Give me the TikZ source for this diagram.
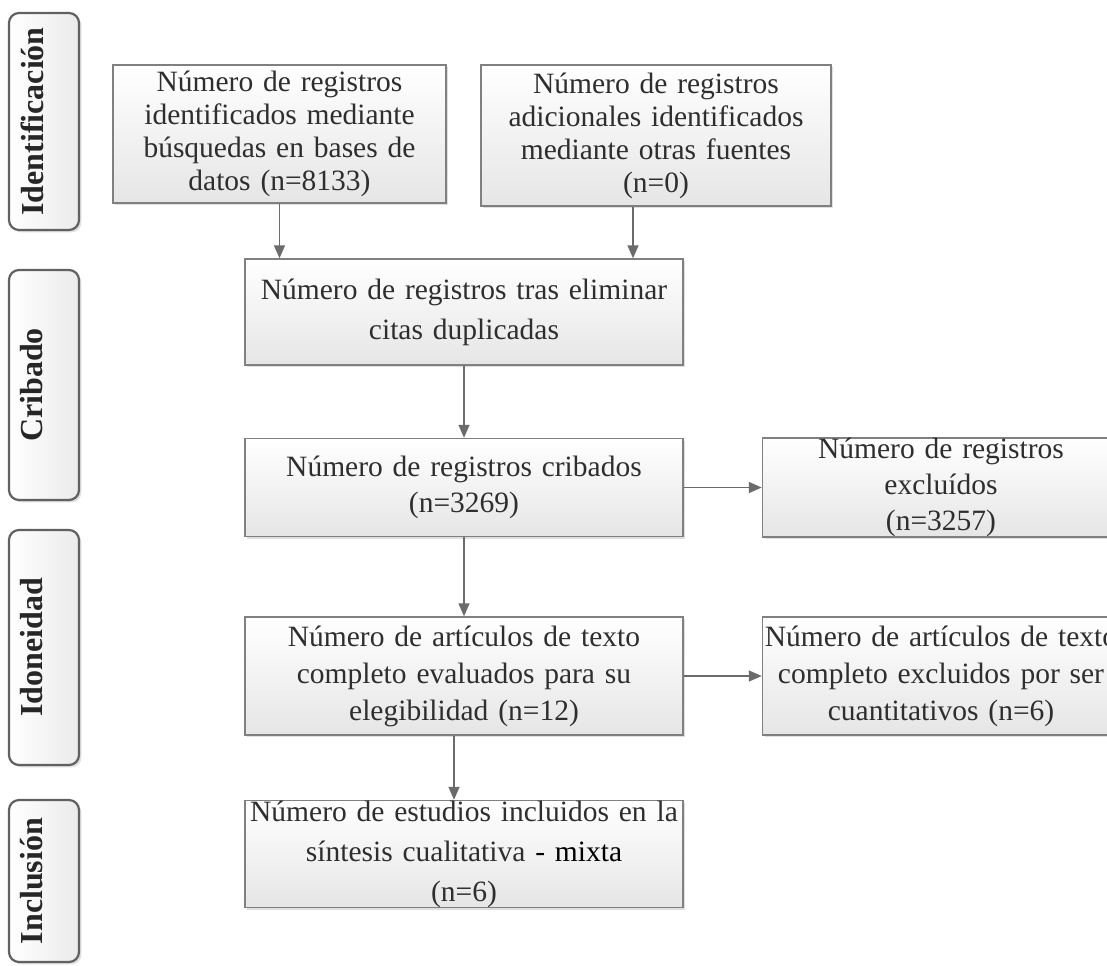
\documentclass[tikz,border=0pt]{standalone}
\usepackage{fontspec}
\setmainfont{Liberation Serif}
\usetikzlibrary{positioning}
\usetikzlibrary{shadows}
\usetikzlibrary{arrows.meta}

\begin{document}
\begin{tikzpicture}
	[x=0.5pt, y=-0.5pt,
	 box/.style={rectangle, draw=black!50, line width=0.75pt, top color=white, bottom color=black!10,
	   drop shadow={shadow xshift=1.2pt, shadow yshift=-1.2pt, opacity=0.25},
	   inner sep=0pt, align=center, text=black!82, minimum width=#1, text width=#1},
	 box/.default=219pt,
	 linegap/.style={font=\fontsize{14.75}{#1}\selectfont},
	 stage/.style={rectangle, rounded corners=5pt, draw=black!62, line width=1.1pt, left color=white, right color=black!8,
	   drop shadow={shadow xshift=1.2pt, shadow yshift=-1.2pt, opacity=0.25}, minimum width=35pt, minimum height=#1},
	 stagetext/.style={rotate=90, inner sep=0pt, text=black!85, font=\fontsize{16}{18}\selectfont\bfseries},
	 arr/.style={draw=black!58, line width=0.75pt, -{Triangle[length=6.5pt, width=5.5pt]}}]
	\clip (0,0) rectangle (1107,965);
	\fill[white] (0,0) rectangle (1107,965);

	% stages
	\node[stage=108.5pt] (ident) at (44,121.5) {};
	\node[stagetext] (identtxt) at (32,121.5) {Identificación};
	\node[stage=115pt] (crib) at (44,385) {};
	\node[stagetext] (cribtxt) at (32,385) {Cribado};
	\node[stage=117.5pt] (idon) at (44,647.5) {};
	\node[stagetext] (idontxt) at (32,647.5) {Idoneidad};
	\node[stage=81pt] (incl) at (44,881) {};
	\node[stagetext] (incltxt) at (32,881) {Inclusión};

	% boxes
	\node[box=166.5pt, linegap=16.5pt, minimum height=69pt] (bases) at (279.5,134)
		{Número de registros\\identificados mediante\\búsquedas en bases de\\datos (n=8133)};
	\node[box=175pt, linegap=16.5pt, minimum height=70.5pt] (otras) at (656,135.5)
		{Número de registros\\adicionales identificados\\mediante otras fuentes\\(n=0)};
	\node[box, linegap=20pt, minimum height=53pt] (dupl) at (464,312)
		{Número de registros tras eliminar\\citas duplicadas};
	\node[box, linegap=18pt, minimum height=49pt, below=36pt of dupl] (crib1)
		{Número de registros cribados\\(n=3269)};
	\node[box=178.5pt, linegap=18pt, minimum height=49.5pt, right=39pt of crib1] (excl1)
		{Número de registros\\excluídos\\(n=3257)};
	\node[box, linegap=18.5pt, minimum height=59pt, below=39.5pt of crib1] (eleg)
		{Número de artículos de texto\\completo evaluados para su\\elegibilidad (n=12)};
	\node[box=178.5pt, linegap=18.5pt, minimum height=59pt, right=39pt of eleg] (excl2)
		{Número de artículos de texto\\completo excluidos por ser\\cuantitativos (n=6)};
	\node[box, linegap=20pt, minimum height=53.5pt, below=32pt of eleg] (sint)
		{Número de estudios incluidos en la\\síntesis cualitativa {\color{black}- mixta}\\(n=6)};

	\draw[arr] (bases.south) -- (bases.south |- dupl.north);
	\draw[arr] ([xshift=-11.5pt]otras.south) -- ([xshift=-11.5pt]otras.south |- dupl.north);
	\draw[arr] (dupl.south) -- (crib1.north);
	\draw[arr] (crib1.east) -- (crib1.east -| excl1.west);
	\draw[arr] (crib1.south) -- (eleg.north);
	\draw[arr] (eleg.east) -- (eleg.east -| excl2.west);
	\draw[arr] ([xshift=-5pt]eleg.south) -- ([xshift=-5pt]eleg.south |- sint.north);
\end{tikzpicture}
\end{document}
